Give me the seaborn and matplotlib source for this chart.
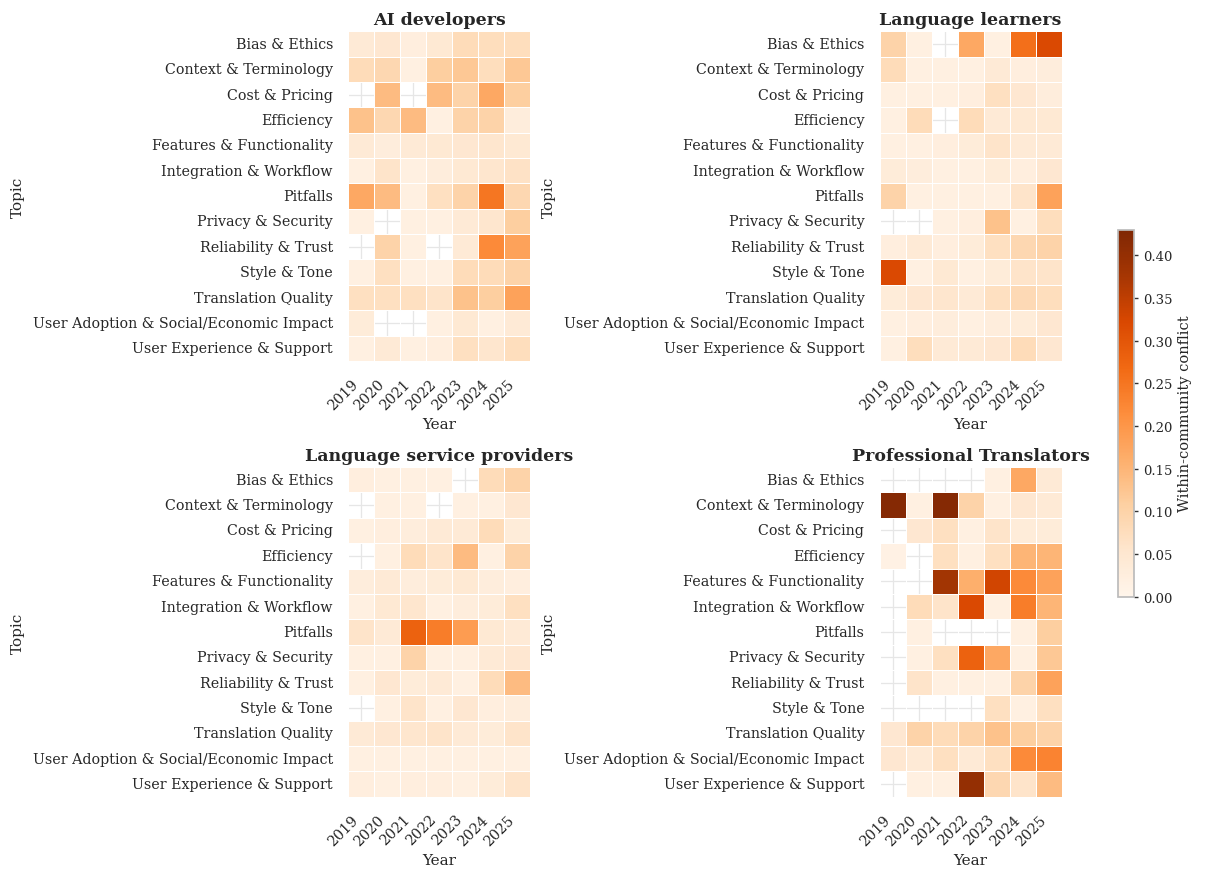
import numpy as np
import pandas as pd
import matplotlib
matplotlib.use("Agg")
import matplotlib.pyplot as plt
import seaborn as sns

sns.set_theme(style="whitegrid", font="DejaVu Serif")
plt.rcParams['font.family'] = ['DejaVu Serif']

nan = np.nan

years = [2019, 2020, 2021, 2022, 2023, 2024, 2025]
topics = [
    "Bias & Ethics", "Context & Terminology", "Cost & Pricing", "Efficiency",
    "Features & Functionality", "Integration & Workflow", "Pitfalls",
    "Privacy & Security", "Reliability & Trust", "Style & Tone",
    "Translation Quality", "User Adoption & Social/Economic Impact",
    "User Experience & Support",
]
communities = ["AI developers", "Language learners",
               "Language service providers", "Professional Translators"]

ai_developers = [
    [0.04, 0.05, 0.025, 0.045, 0.08, 0.075, 0.075],
    [0.08, 0.09, 0.02, 0.11, 0.12, 0.075, 0.12],
    [nan, 0.14, nan, 0.14, 0.10, 0.17, 0.11],
    [0.13, 0.09, 0.14, 0.02, 0.10, 0.10, 0.03],
    [0.04, 0.03, 0.04, 0.045, 0.05, 0.055, 0.045],
    [0.02, 0.06, 0.02, 0.03, 0.045, 0.055, 0.065],
    [0.17, 0.14, 0.02, 0.07, 0.10, 0.25, 0.09],
    [0.02, nan, 0.02, 0.02, 0.04, 0.055, 0.11],
    [nan, 0.10, 0.02, nan, 0.04, 0.22, 0.18],
    [0.02, 0.07, 0.02, 0.02, 0.08, 0.08, 0.10],
    [0.07, 0.07, 0.07, 0.06, 0.13, 0.11, 0.18],
    [0.035, nan, nan, 0.02, 0.045, 0.02, 0.04],
    [0.02, 0.04, 0.02, 0.025, 0.07, 0.055, 0.075],
]

language_learners = [
    [0.10, 0.02, nan, 0.17, 0.02, 0.26, 0.32],
    [0.08, 0.02, 0.02, 0.02, 0.04, 0.025, 0.03],
    [0.02, 0.02, 0.02, 0.025, 0.07, 0.05, 0.03],
    [0.02, 0.08, nan, 0.08, 0.04, 0.045, 0.045],
    [0.02, 0.02, 0.025, 0.035, 0.06, 0.04, 0.04],
    [0.035, 0.03, 0.02, 0.02, 0.035, 0.025, 0.05],
    [0.10, 0.02, 0.02, 0.02, 0.02, 0.06, 0.18],
    [nan, nan, 0.02, 0.025, 0.13, 0.02, 0.075],
    [0.025, 0.04, 0.025, 0.035, 0.07, 0.09, 0.10],
    [0.32, 0.02, 0.045, 0.02, 0.035, 0.06, 0.06],
    [0.035, 0.05, 0.055, 0.04, 0.07, 0.085, 0.075],
    [0.02, 0.025, 0.03, 0.02, 0.03, 0.035, 0.05],
    [0.02, 0.075, 0.04, 0.04, 0.05, 0.08, 0.05],
]

service_providers = [
    [0.025, 0.02, 0.02, 0.02, nan, 0.08, 0.10],
    [nan, 0.02, 0.02, nan, 0.02, 0.02, 0.05],
    [0.02, 0.025, 0.03, 0.04, 0.04, 0.08, 0.035],
    [nan, 0.02, 0.08, 0.06, 0.14, 0.02, 0.10],
    [0.03, 0.04, 0.03, 0.035, 0.045, 0.03, 0.025],
    [0.02, 0.045, 0.055, 0.02, 0.03, 0.035, 0.07],
    [0.06, 0.04, 0.28, 0.24, 0.19, 0.045, 0.04],
    [0.02, 0.02, 0.10, 0.02, 0.02, 0.04, 0.05],
    [0.02, 0.05, 0.035, 0.04, 0.02, 0.08, 0.14],
    [nan, 0.02, 0.06, 0.02, 0.05, 0.025, 0.03],
    [0.04, 0.05, 0.055, 0.06, 0.04, 0.035, 0.06],
    [0.02, 0.02, 0.02, 0.02, 0.02, 0.02, 0.02],
    [0.025, 0.02, 0.025, 0.025, 0.02, 0.035, 0.06],
]

professional_translators = [
    [nan, nan, nan, nan, 0.02, 0.17, 0.04],
    [0.42, 0.02, 0.42, 0.10, 0.02, 0.05, 0.04],
    [nan, 0.05, 0.07, 0.02, 0.06, 0.035, 0.035],
    [0.015, nan, 0.07, 0.02, 0.07, 0.15, 0.15],
    [nan, nan, 0.38, 0.16, 0.33, 0.22, 0.18],
    [nan, 0.08, 0.06, 0.32, 0.02, 0.24, 0.15],
    [nan, 0.02, nan, nan, nan, 0.02, 0.11],
    [nan, 0.02, 0.07, 0.28, 0.17, 0.02, 0.12],
    [nan, 0.06, 0.02, 0.02, 0.02, 0.10, 0.18],
    [nan, nan, nan, nan, 0.07, 0.02, 0.07],
    [0.05, 0.10, 0.08, 0.10, 0.13, 0.11, 0.10],
    [0.05, 0.04, 0.07, 0.04, 0.07, 0.22, 0.23],
    [nan, 0.02, 0.02, 0.40, 0.09, 0.06, 0.14],
]

panels = [ai_developers, language_learners, service_providers, professional_translators]
vmax = 0.43

fig = plt.figure(figsize=(12.05, 8.7), dpi=100)
positions = [
    [0.289, 0.584, 0.151, 0.379],
    [0.730, 0.584, 0.151, 0.379],
    [0.289, 0.083, 0.151, 0.379],
    [0.730, 0.083, 0.151, 0.379],
]

for name, vals, pos in zip(communities, panels, positions):
    ax = fig.add_axes(pos)
    df = pd.DataFrame(vals, index=topics, columns=years)
    sns.heatmap(df, ax=ax, cmap="Oranges", vmin=0, vmax=vmax, cbar=False,
                linewidths=0.5, linecolor="white")
    ax.set_axisbelow(True)
    ax.grid(True, color="#e6e6e6", linewidth=0.9)
    ax.set_title(name, fontsize=12.5, fontweight="bold", pad=5)
    ax.set_xlabel("Year", fontsize=11)
    ax.set_ylabel("Topic", fontsize=11, labelpad=6)
    ax.set_xticklabels(years, rotation=45, ha="right", fontsize=10.25)
    ax.set_yticklabels(topics, rotation=0, fontsize=10.25)
    ax.tick_params(axis="y", length=0, pad=11)
    ax.tick_params(axis="x", length=0, pad=11)

cax = fig.add_axes([0.928, 0.313, 0.0133, 0.422])
sm = plt.cm.ScalarMappable(cmap="Oranges", norm=plt.Normalize(0, vmax))
cb = fig.colorbar(sm, cax=cax)
cb.set_ticks(np.arange(0, 0.41, 0.05))
cb.ax.tick_params(labelsize=9.5, length=3, width=1, color="#333333")
cb.outline.set_edgecolor("#bbbbbb")
cb.set_label("Within-community conflict", fontsize=10.5)

fig.savefig("out.png", dpi=100)
